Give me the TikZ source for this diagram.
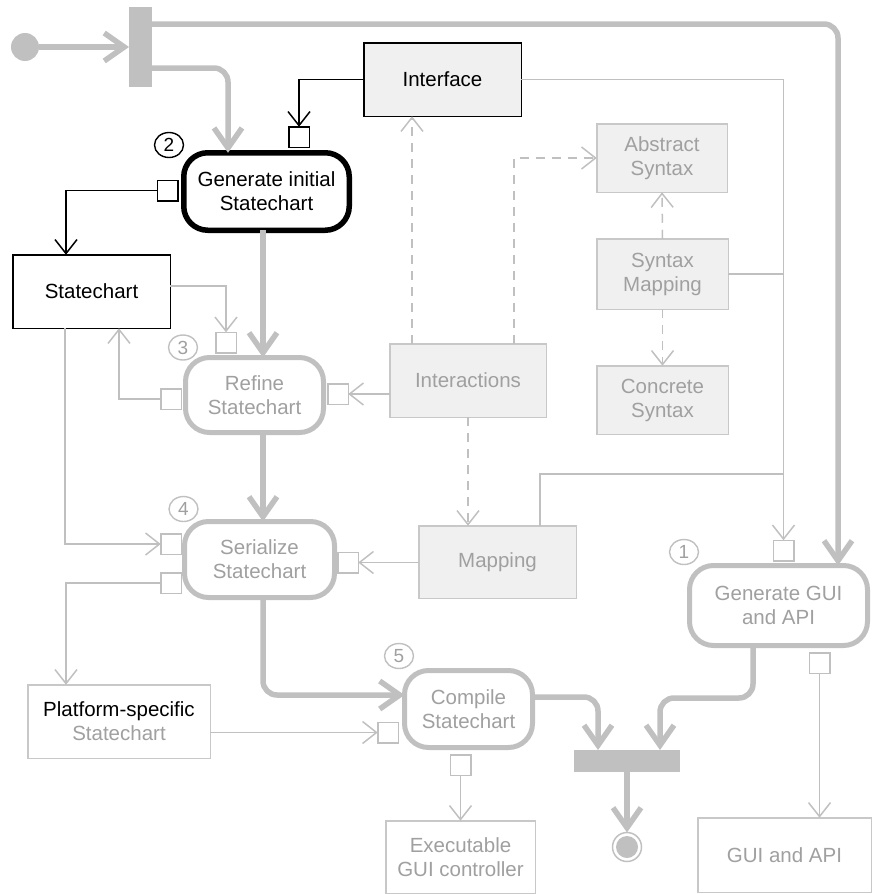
\documentclass[tikz,border=0pt]{standalone}
\usepackage{fontspec}
\setmainfont{Liberation Sans}
\usetikzlibrary{arrows.meta,shapes.geometric}
\definecolor{lg}{HTML}{C0C0C0}
\definecolor{bg}{HTML}{C8C8C8}
\definecolor{fg}{HTML}{F0F0F0}
\definecolor{tg}{HTML}{A0A0A0}
\begin{document}
\begin{tikzpicture}[x=1pt,y=-1pt,
 every node/.style={font=\fontsize{20.5}{24}\selectfont, align=center, inner sep=0pt, outer sep=0pt},
 obj/.style={draw=bg, fill=fg, line width=1.5pt, text=tg},
 objw/.style={draw=bg, fill=white, line width=1.5pt, text=tg},
 objk/.style={draw=black, line width=1.5pt, text=black},
 act/.style={draw=lg, line width=5pt, fill=white, rounded corners=24pt, text=tg},
 pinbox/.style={draw=lg, fill=white, line width=1.5pt, minimum width=20.5pt, minimum height=20.5pt},
 pinboxk/.style={pinbox, draw=black},
 num/.style={ellipse, draw=lg, line width=1.4pt, text=tg, minimum width=29pt, minimum height=25pt, font=\fontsize{19}{19}\selectfont},
 flow/.style={draw=lg, line width=5.5pt, rounded corners=14pt, -{Straight Barb[length=20pt,width=28pt]}},
 thinflow/.style={draw=lg, line width=1.5pt, -{Straight Barb[length=14pt,width=22pt]}},
 thinline/.style={draw=lg, line width=1.5pt},
 thinblk/.style={draw=black, line width=1.5pt, -{Straight Barb[length=14pt,width=22pt]}},
 dashflow/.style={thinflow, dash pattern=on 9pt off 7pt},
]
\useasboundingbox (0,0) rectangle (872,894);

% helper coordinates
\coordinate (yTop) at (0,24);
\coordinate (yF2) at (0,68);
\coordinate (x228) at (228,0);
\coordinate (x838) at (838,0);
\coordinate (x263) at (263,0);
\coordinate (y695) at (0,695);
\coordinate (y697) at (0,697);
\coordinate (x598) at (598,0);
\coordinate (x753) at (753,0);
\coordinate (y698) at (0,698);
\coordinate (x660) at (660,0);
\coordinate (x66) at (66,0);
\coordinate (x119) at (119,0);
\coordinate (x65) at (65,0);
\coordinate (y286) at (0,286);
\coordinate (x412) at (412,0);
\coordinate (x514) at (514,0);
\coordinate (x540) at (540,0);
\coordinate (y474) at (0,474);

% control nodes
\node[circle, fill=lg, minimum size=28pt] (init) at (25,47) {};
\node[fill=lg, minimum width=23pt, minimum height=80pt] (fork) at (140.5,47) {};
\node[fill=lg, minimum width=106pt, minimum height=22pt] (join) at (627,761) {};
\node[circle, draw=lg, line width=1.5pt, minimum size=29pt,
      path picture={\fill[lg] (path picture bounding box.center) circle (11pt);}] (final) at (627,847) {};

% object nodes
\node[objk, fill=fg, minimum width=157.5pt, minimum height=73.5pt] (iface) at (442.5,79.5) {Interface};
\node[obj, minimum width=130.5pt, minimum height=68.5pt] (abs) at (662,158) {Abstract\\Syntax};
\node[obj, minimum width=131.5pt, minimum height=70.5pt] (smap) at (662.5,274) {Syntax\\Mapping};
\node[obj, minimum width=131.5pt, minimum height=68.5pt] (csyn) at (662.5,400) {Concrete\\Syntax};
\node[obj, minimum width=156.5pt, minimum height=73.5pt] (inter) at (468,380.5) {Interactions};
\node[objk, fill=white, minimum width=157.5pt, minimum height=73.5pt] (sc) at (91.5,291.5) {Statechart};
\node[obj, minimum width=157.5pt, minimum height=72.5pt] (mapping) at (497.5,562) {Mapping};
\node[objw, minimum width=182.5pt, minimum height=73.5pt] (plat) at (119,721.5) {{\color{black}Platform-specific}\\Statechart};
\node[objw, minimum width=149.5pt, minimum height=72.5pt] (exe) at (460.5,857) {Executable\\GUI controller};
\node[objw, minimum width=173.5pt, minimum height=74.5pt] (guiapi) at (784.5,855) {GUI and API};

% activity nodes
\node[act, draw=black, text=black, line width=5.5pt, minimum width=165.5pt, minimum height=77.5pt] (gen) at (266.5,191.5) {Generate initial\\Statechart};
\node[act, minimum width=138pt, minimum height=75pt] (refine) at (254.5,395) {Refine\\Statechart};
\node[act, minimum width=150pt, minimum height=76pt] (serial) at (259.5,559.5) {Serialize\\Statechart};
\node[act, minimum width=128pt, minimum height=77pt] (compile) at (468.5,709) {Compile\\Statechart};
\node[act, minimum width=178pt, minimum height=80pt] (gui) at (778.5,605.5) {Generate GUI\\and API};

% pins
\node[pinboxk] (p2top) at (299,137) {};
\node[pinboxk] (p2left) at (167.5,190.5) {};
\node[pinbox] (p3top) at (226,342.5) {};
\node[pinbox] (p3left) at (171,399) {};
\node[pinbox] (p3right) at (338,394) {};
\node[pinbox] (p4lu) at (171,544) {};
\node[pinbox] (p4ll) at (171,583) {};
\node[pinbox] (p4right) at (348,562.5) {};
\node[pinbox] (p5left) at (388,732.5) {};
\node[pinbox] (p5bot) at (460.5,765) {};
\node[pinbox] (p1top) at (783.5,550.5) {};
\node[pinbox] (p1bot) at (819.5,663) {};

% step numbers
\node[num, draw=black, text=black] (n2) at (169,145) {2};
\node[num] (n3) at (183,347.5) {3};
\node[num] (n4) at (183.5,509) {4};
\node[num] (n5) at (399,656) {5};
\node[num] (n1) at (684,552) {1};

% control flows (thick)
\draw[flow] (init.east) -- (fork.west);
\draw[flow] (fork.east |- yF2) -| (gen.north -| x228);
\draw[flow] (fork.east |- yTop) -| (gui.north -| x838);
\draw[flow] (gen.south -| x263) -- (refine.north -| x263);
\draw[flow] (refine.south -| x263) -- (serial.north -| x263);
\draw[flow] (serial.south -| x263) |- (compile.west |- y695);
\draw[flow] (compile.east |- y697) -| (join.north -| x598);
\draw[flow] (gui.south -| x753) |- (x660 |- y698) -- (join.north -| x660);
\draw[flow] (join.south) -- (final.north);

% object flows (thin)
\draw[thinblk] (iface.west) -| (p2top.north);
\draw[thinblk] (p2left.west) -| (sc.north -| x66);
\draw[thinflow] (iface.east) -| (p1top.north);
\draw[thinline] (smap.east) -- (smap.east -| p1top);
\draw[thinline] (mapping.north -| x540) |- (p1top |- y474);
\draw[thinflow] (sc.east |- y286) -| (p3top.north);
\draw[thinflow] (p3left.west) -| (sc.south -| x119);
\draw[thinflow] (sc.south -| x65) |- (p4lu.west);
\draw[thinflow] (inter.west |- p3right) -- (p3right.east);
\draw[thinflow] (mapping.west |- p4right) -- (p4right.east);
\draw[thinflow] (p4ll.west) -| (plat.north -| x66);
\draw[thinflow] (plat.east |- p5left) -- (p5left.west);
\draw[thinflow] (p5bot.south) -- (exe.north -| p5bot);
\draw[thinflow] (p1bot.south) -- (guiapi.north -| p1bot);

% dashed dependencies
\draw[dashflow] (inter.north -| x412) -- (iface.south -| x412);
\draw[dashflow] (inter.north -| x514) |- (abs.west);
\draw[dashflow] (smap.north) -- (abs.south);
\draw[dashflow] (smap.south) -- (csyn.north);
\draw[dashflow] (inter.south) -- (mapping.north -| inter.south);
\end{tikzpicture}
\end{document}
